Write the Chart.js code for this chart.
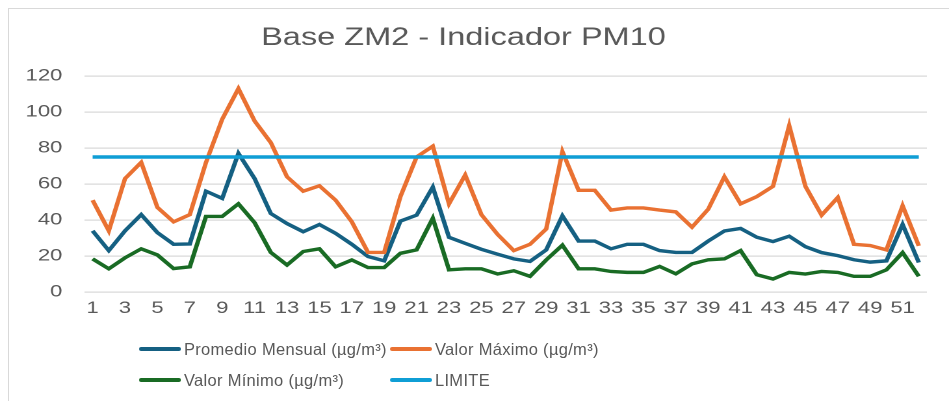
<!DOCTYPE html>
<html>
<head>
<meta charset="utf-8">
<script src="https://cdn.jsdelivr.net/npm/chart.js@4/dist/chart.umd.min.js"></script>
<style>
  html, body { margin: 0; padding: 0; background: #fff; overflow: hidden; }
  body { width: 949px; height: 401px; position: relative; font-family: 'Liberation Sans', Arial, sans-serif; }
  /* the reference picture is stretched sideways, so the chart is drawn narrow and scaled */
  #stretch { position: absolute; left: 0; top: 0; width: 730px; height: 401px;
             transform: scaleX(1.3); transform-origin: 0 0; }
  #frame { position: absolute; left: 8px; top: 8px; width: 1000px; height: 500px;
           border: 1.5px solid #d9d9d9; box-sizing: border-box; }
  .legend-item { position: absolute; height: 20px; display: flex; align-items: center;
                 font-size: 16.5px; letter-spacing: 0.3px; color: #595959; white-space: nowrap; }
  .legend-item .swatch { width: 42px; height: 3.3px; margin-right: 3px; border-radius: 2px; }
</style>
</head>
<body>
<div id="frame"></div>
<div id="stretch"><canvas id="chart" width="730" height="401"></canvas></div>
<div id="legend"></div>
<script>
// Week / period numbers along the x axis
const periods = ['1','2','3','4','5','6','7','8','9','10','11','12','13','14','15','16','17','18','19','20',
  '21','22','23','24','25','26','27','28','29','30','31','32','33','34','35','36','37','38','39','40',
  '41','42','43','44','45','46','47','48','49','50','51','52'];

// Promedio Mensual (µg/m³)
const promedio = [34, 23, 34, 43, 33, 26.5, 26.7, 56, 52, 77, 63, 43.6, 38, 33.5, 37.5, 32.6, 26.5, 19.7, 17.3, 39.4,
  42.7, 58.3, 30.4, 27, 23.7, 21, 18.4, 17, 23.4, 42.3, 28.3, 28.3, 24, 26.5, 26.5, 23, 22, 22, 28.3, 33.9,
  35.3, 30.4, 28, 31, 25.2, 21.9, 20.2, 17.9, 16.6, 17.3, 37.5, 16.4];

// Valor Máximo (µg/m³)
const maximo = [51, 34, 63, 72, 47, 39, 43, 72, 96, 113, 95, 83, 64, 56, 59, 51, 39, 22, 22, 53,
  75, 81, 49, 65, 43, 32, 23, 26.5, 35, 78, 56.5, 56.5, 45.5, 46.7, 46.7, 45.5, 44.5, 36, 46, 64,
  49, 53, 58.7, 92.4, 58.7, 42.7, 52.5, 26.5, 25.8, 23.4, 47.9, 25.6];

// Valor Mínimo (µg/m³)
const minimo = [18.4, 12.9, 19, 24, 20.6, 13, 14, 42, 42, 49, 38.5, 22, 15, 22.5, 24, 14, 17.8, 13.6, 13.6, 21.5,
  23.4, 41, 12.3, 12.9, 12.9, 10, 11.8, 8.7, 17.8, 26, 12.9, 12.9, 11.4, 10.9, 10.9, 14.2, 10.1, 15.6, 17.9, 18.4,
  23, 9.6, 7.2, 10.9, 10, 11.4, 10.9, 8.7, 8.7, 12.3, 21.9, 8.7];

// LIMITE
const limite = [75, 75, 75, 75, 75, 75, 75, 75, 75, 75, 75, 75, 75, 75, 75, 75, 75, 75, 75, 75,
  75, 75, 75, 75, 75, 75, 75, 75, 75, 75, 75, 75, 75, 75, 75, 75, 75, 75, 75, 75,
  75, 75, 75, 75, 75, 75, 75, 75, 75, 75, 75, 75];

const seriesNames = ['Promedio Mensual (µg/m³)', 'Valor Máximo (µg/m³)', 'Valor Mínimo (µg/m³)', 'LIMITE'];
const seriesColors = ['#156082', '#E97132', '#196B24', '#0F9ED5'];

const textGray = '#595959';
const fontFamily = "'Liberation Sans', Arial, sans-serif";

function lineSet(label, data, color, order) {
  return {
    label,
    data,
    borderColor: color,
    backgroundColor: color,
    borderWidth: 3.4,
    pointRadius: 0,
    tension: 0,
    order,
  };
}

const config = {
  type: 'line',
  data: {
    labels: periods,
    datasets: [
      lineSet(seriesNames[0], promedio, seriesColors[0], 3),
      lineSet(seriesNames[1], maximo, seriesColors[1], 2),
      lineSet(seriesNames[2], minimo, seriesColors[2], 1),
      lineSet(seriesNames[3], limite, seriesColors[3], 0),
    ],
  },
  options: {
    responsive: false,
    animation: false,
    devicePixelRatio: 2,
    layout: { padding: { top: 0, left: 0, right: 17, bottom: 79 } },
    plugins: {
      legend: { display: false },
      tooltip: { enabled: false },
      title: {
        display: true,
        text: 'Base ZM2 - Indicador PM10',
        color: textGray,
        font: { family: fontFamily, size: 25, weight: 'normal' },
        padding: { top: 23, bottom: 23 },
      },
    },
    scales: {
      x: {
        type: 'category',
        offset: true,
        grid: { display: false, drawTicks: false },
        border: { display: false },
        ticks: {
          autoSkip: false,
          maxRotation: 0,
          padding: 6,
          color: textGray,
          font: { family: fontFamily, size: 17 },
          callback: function (value, index) {
            return index % 2 === 0 ? this.getLabelForValue(value) : '';
          },
        },
        afterFit: (scale) => { scale.height = 30; },
      },
      y: {
        min: 0,
        max: 120,
        grid: { color: '#d9d9d9', lineWidth: 1.3, drawTicks: false },
        border: { display: false },
        ticks: {
          stepSize: 20,
          padding: 17,
          color: textGray,
          font: { family: fontFamily, size: 17 },
        },
        afterFit: (scale) => { scale.width = 65; },
      },
    },
  },
};

new Chart(document.getElementById('chart'), config);

// Two-row legend laid out like the original
const legendSpots = [
  { x: 139, y: 339 }, { x: 390, y: 339 },
  { x: 139, y: 370 }, { x: 390, y: 370 },
];
const legend = document.getElementById('legend');
seriesNames.forEach((name, i) => {
  const item = document.createElement('div');
  item.className = 'legend-item';
  item.style.left = legendSpots[i].x + 'px';
  item.style.top = legendSpots[i].y + 'px';
  const swatch = document.createElement('span');
  swatch.className = 'swatch';
  swatch.style.background = seriesColors[i];
  const label = document.createElement('span');
  label.textContent = name;
  item.appendChild(swatch);
  item.appendChild(label);
  legend.appendChild(item);
});
</script>
</body>
</html>
